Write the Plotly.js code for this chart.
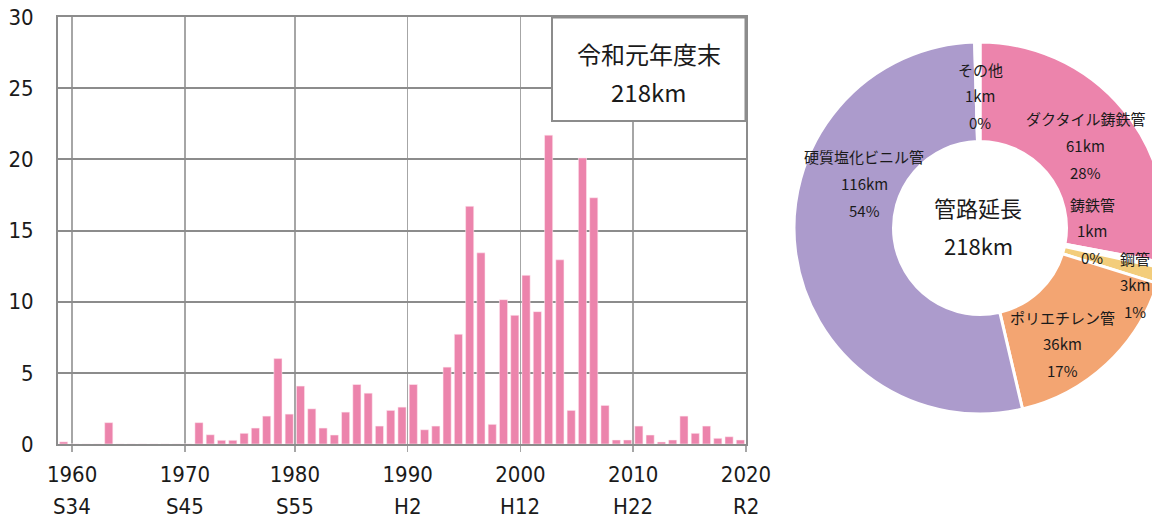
<!DOCTYPE html>
<html><head><meta charset="utf-8">
<script src="https://cdn.plot.ly/plotly-3.0.1.min.js"></script>
<style>html,body{margin:0;padding:0;overflow:hidden;background:#fff}#chart{width:1180px;height:518px}</style>
</head><body><div id="chart"></div>
<script>
// ---- data ----
const years = [1959,1960,1961,1962,1963,1964,1965,1966,1967,1968,1969,
  1970,1971,1972,1973,1974,1975,1976,1977,1978,1979,
  1980,1981,1982,1983,1984,1985,1986,1987,1988,1989,
  1990,1991,1992,1993,1994,1995,1996,1997,1998,1999,
  2000,2001,2002,2003,2004,2005,2006,2007,2008,2009,
  2010,2011,2012,2013,2014,2015,2016,2017,2018,2019];
const lengths = [0.15,0,0,0,1.5,0,0,0,0,0,0,
  0,1.5,0.65,0.26,0.26,0.75,1.12,1.96,6.0,2.1,
  4.07,2.47,1.12,0.63,2.24,4.18,3.57,1.26,2.36,2.59,
  4.18,1.0,1.26,5.4,7.71,16.7,13.43,1.38,10.14,9.04,
  11.85,9.3,21.7,12.94,2.36,20.1,17.3,2.71,0.28,0.28,
  1.26,0.63,0.14,0.28,1.96,0.75,1.26,0.4,0.51,0.28];
const yearTickLabels = ['1960','1970','1980','1990','2000','2010','2020'];
const eraTickLabels = ['S34','S45','S55','H2','H12','H22','R2'];
const yTickValues = [0,5,10,15,20,25,30];
const boxTitle = '令和元年度末';
const totalKm = 218;

const pipeNames = ['ダクタイル鋳鉄管','鋳鉄管','鋼管','ポリエチレン管','硬質塩化ビニル管','その他'];
const pipeKm = [61,1,3,36,116,1];
const pipePct = [28,0,1,17,54,0];
const centerTitle = '管路延長';

// ---- layout helpers (pixel geometry) ----
const W = 1180, H = 518;
const px = x => x / W;
const py = y => 1 - y / H;
const tickPos = [1959.75,1969.75,1979.5,1989.5,1999.5,2009.5,2019.5];
const pipeColors = ['#EC84AC','#FFFFFF','#F3CD7B','#F3A572','#AC9BCC','#FFFFFF'];
const pieLabelPos = [[1085,119],[1092,204],[1135,258],[1062,317],[864,157],[980,69]];
const lineGap = 26.7;

const tickFont = {family:'"DejaVu Sans Condensed","Liberation Sans",sans-serif', size:22, color:'#1a1a1a'};
const jpFont = {family:'"Noto Sans CJK JP","Noto Sans",sans-serif', color:'#1a1a1a'};

const bar = {
  type:'bar', x: years, y: lengths, xaxis:'x', yaxis:'y',
  width:0.72, offset:-0.36,
  marker:{color:'#EC84AC', line:{color:'rgba(255,235,242,0.9)', width:0.6}},
  hoverinfo:'x+y'
};
const pie = {
  type:'pie', values: pipeKm, labels: pipeNames, sort:false, direction:'clockwise', rotation:0,
  hole:0.465, textinfo:'none', showlegend:false,
  marker:{colors: pipeColors, line:{color:'#FFFFFF', width:3}},
  domain:{x:[px(794), px(1166)], y:[py(414), py(42)]}
};

const annotations = [];
eraTickLabels.forEach((t,i)=>{
  annotations.push({xref:'x', yref:'paper', x:tickPos[i], y:py(506), text:t, showarrow:false,
    xanchor:'center', yanchor:'middle', font:tickFont});
});
annotations.push({xref:'paper', yref:'paper', x:px(648.5), y:py(53), text:boxTitle, showarrow:false,
  xanchor:'center', yanchor:'middle', font:Object.assign({size:24}, jpFont)});
annotations.push({xref:'paper', yref:'paper', x:px(648.5), y:py(92), text:totalKm + 'km', showarrow:false,
  xanchor:'center', yanchor:'middle', font:Object.assign({size:24}, jpFont)});
annotations.push({xref:'paper', yref:'paper', x:px(978), y:py(207), text:centerTitle, showarrow:false,
  xanchor:'center', yanchor:'middle', font:Object.assign({size:22}, jpFont)});
annotations.push({xref:'paper', yref:'paper', x:px(978), y:py(245), text:totalKm + 'km', showarrow:false,
  xanchor:'center', yanchor:'middle', font:Object.assign({size:22}, jpFont)});
pipeNames.forEach((n,i)=>{
  const lines = [n, pipeKm[i] + 'km', pipePct[i] + '%'];
  lines.forEach((t,j)=>{
    annotations.push({xref:'paper', yref:'paper', x:px(pieLabelPos[i][0]), y:py(pieLabelPos[i][1] + j*lineGap),
      text:t, showarrow:false, xanchor:'center', yanchor:'middle', font:Object.assign({size:15}, jpFont)});
  });
});

const layout = {
  width:W, height:H, margin:{l:0,r:0,t:0,b:0}, paper_bgcolor:'#fff', plot_bgcolor:'#fff',
  showlegend:false, bargap:0,
  xaxis:{domain:[px(58), px(746)], range:[1958.5, 2019.5], tickmode:'array', tickvals:tickPos, ticktext:yearTickLabels,
    showgrid:true, gridcolor:'#a6a6a6', gridwidth:1.5, zeroline:false,
    showline:true, mirror:true, linecolor:'#8c8c8c', linewidth:2,
    ticks:'outside', ticklen:6, tickwidth:1.5, tickcolor:'#a6a6a6', ticklabelstandoff:4,
    tickfont:tickFont, fixedrange:true},
  yaxis:{domain:[py(444), py(17)], range:[0,30], tickmode:'array', tickvals:yTickValues,
    showgrid:true, gridcolor:'#8c8c8c', gridwidth:2, zeroline:false,
    showline:true, mirror:true, linecolor:'#8c8c8c', linewidth:2,
    ticks:'', ticklabelstandoff:18, tickfont:tickFont, fixedrange:true},
  shapes:[{type:'rect', xref:'paper', yref:'paper', x0:px(552), x1:px(745.5), y0:py(121), y1:py(17.5),
    fillcolor:'#ffffff', line:{color:'#8c8c8c', width:2}, layer:'above'}],
  annotations: annotations
};

Plotly.newPlot('chart', [bar, pie], layout, {displayModeBar:false, staticPlot:true});
</script>
</body></html>
